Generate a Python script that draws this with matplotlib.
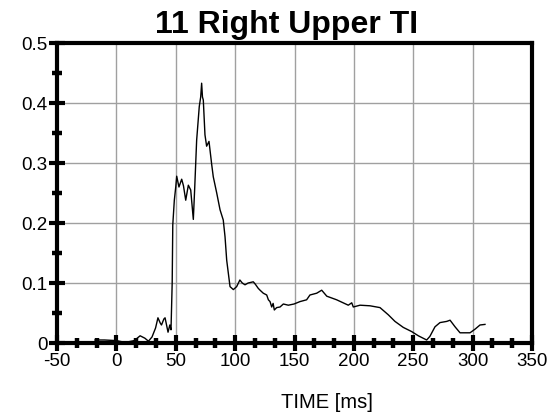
import matplotlib.pyplot as plt
from matplotlib.ticker import MultipleLocator

plt.rcParams['font.family'] = ['Liberation Sans', 'DejaVu Sans']

# czas [ms] i wartosc
czas = [-18, -10, 0, 5, 10, 15, 20, 24, 27, 30,
        33, 35, 37, 38, 40, 41, 43.5, 45, 46, 47,
        47.5, 48.8, 50, 50.8, 52.7, 55, 56.5, 58.4, 60.6, 62.6,
        64.8, 66, 67.6, 69.8, 71, 71.8, 72.5, 73.2, 74.6, 76,
        78, 80.3, 81.6, 84.5, 87.3, 90, 91.5, 92.9, 95.7, 98.5,
        101.3, 104, 106, 108.3, 111, 115.3, 117, 119.5, 121, 123.7,
        126.6, 128, 129.4, 130.8, 132, 133, 135, 137.8, 140.6, 144.8,
        149.6, 154.6, 160.2, 163, 168.7, 172.9, 177.2, 185.5, 195.3, 198.2,
        199.5, 205.2, 213.6, 222, 229, 234.6, 241.6, 248.7, 254.3, 261.3,
        264, 268.3, 272.5, 278.2, 281, 285.2, 289.4, 297.8, 302, 306.2,
        310.4]
wartosc = [0.005, 0.005, 0.004, 0.002, 0.002, 0.004, 0.012, 0.008, 0.003, 0.01,
           0.025, 0.042, 0.033, 0.03, 0.04, 0.042, 0.018, 0.03, 0.022, 0.1,
           0.197, 0.238, 0.26, 0.278, 0.26, 0.273, 0.262, 0.238, 0.263, 0.255,
           0.206, 0.26, 0.338, 0.394, 0.41, 0.433, 0.41, 0.405, 0.347, 0.328,
           0.336, 0.297, 0.277, 0.25, 0.222, 0.205, 0.177, 0.138, 0.094, 0.089,
           0.094, 0.105, 0.1, 0.097, 0.1, 0.102, 0.098, 0.091, 0.088, 0.083,
           0.08, 0.072, 0.069, 0.06, 0.066, 0.055, 0.059, 0.06, 0.065, 0.063,
           0.065, 0.069, 0.072, 0.08, 0.083, 0.088, 0.078, 0.072, 0.063, 0.067,
           0.06, 0.063, 0.062, 0.059, 0.047, 0.036, 0.026, 0.019, 0.012, 0.005,
           0.011, 0.027, 0.034, 0.036, 0.038, 0.027, 0.017, 0.017, 0.023, 0.03,
           0.031]

x_ticks = [-50, 0, 50, 100, 150, 200, 250, 300, 350]
x_labels = ['-50', '0', '50', '100', '150', '200', '250', '300', '350']
y_ticks = [0, 0.1, 0.2, 0.3, 0.4, 0.5]
y_labels = ['0', '0.1', '0.2', '0.3', '0.4', '0.5']

fig = plt.figure(figsize=(5.52, 4.17), dpi=100)
ax = fig.add_axes([57 / 552, 1 - 343 / 417, 475 / 552, 300 / 417])

ax.plot(czas, wartosc, color='black', lw=1.0, zorder=3)

ax.set_xlim(-50, 350)
ax.set_ylim(0, 0.5)
ax.set_xticks(x_ticks)
ax.set_xticklabels(x_labels)
ax.set_yticks(y_ticks)
ax.set_yticklabels(y_labels)
ax.xaxis.set_minor_locator(MultipleLocator(50 / 3))
ax.yaxis.set_minor_locator(MultipleLocator(0.05))
ax.grid(True, which='major', color='#a0a0a0', lw=1.0, zorder=1)

ax.tick_params(which='major', direction='inout', length=12, width=3,
               labelsize=13.5, pad=1, color='black')
ax.tick_params(which='minor', direction='inout', length=7, width=3.2,
               color='black')
for s in ax.spines.values():
    s.set_linewidth(3)
    s.set_zorder(4)

ax.set_xlabel('TIME [ms]', fontsize=14.5)
ax.xaxis.set_label_coords(0.568, -0.165)
ax.text(0.484, 1.033, '11 Right Upper TI', transform=ax.transAxes,
        ha='center', va='baseline', fontsize=23, fontweight='bold')

fig.savefig('out.png', dpi=100)
